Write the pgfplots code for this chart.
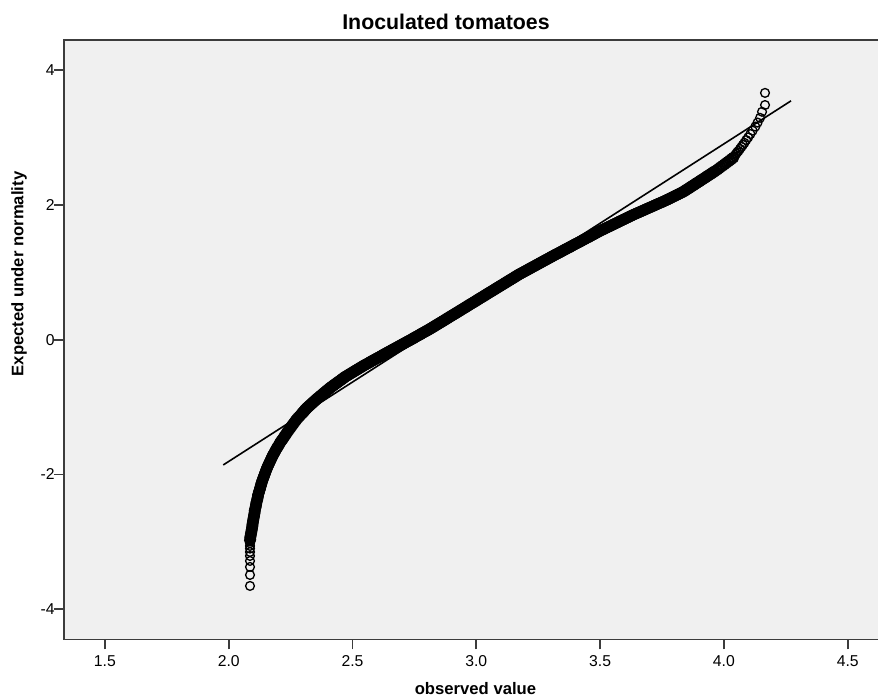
\documentclass[border=0pt]{standalone}
\usepackage{fontspec}
\setmainfont{Liberation Sans}
\usepackage{pgfplots}
\pgfplotsset{compat=1.18}
\usepackage{pgfplotstable}

\definecolor{plotbg}{RGB}{240,240,240}
\definecolor{framegray}{RGB}{60,60,60}

% observed value (x) against expected normal quantile (y), read off the plot
% the sparse points at both ends
\pgfplotstableread{
x y
2.086 -3.654
2.086 -3.491
2.086 -3.372
2.086 -3.283
2.086 -3.209
2.086 -3.150
2.086 -3.100
2.086 -3.060
2.086 -3.020
4.042 2.72
4.046 2.74
4.050 2.76
4.054 2.78
4.059 2.80
4.065 2.83
4.071 2.86
4.077 2.89
4.083 2.92
4.090 2.96
4.098 3.00
4.107 3.05
4.116 3.10
4.127 3.16
4.136 3.22
4.146 3.29
4.154 3.38
4.166 3.48
4.166 3.66
}\qqtails

% the dense middle run
\pgfplotstableread{
x y
2.086 -2.980
2.087 -2.96
2.087 -2.94
2.088 -2.92
2.089 -2.90
2.090 -2.88
2.091 -2.86
2.092 -2.84
2.093 -2.82
2.094 -2.80
2.095 -2.78
2.096 -2.76
2.096 -2.74
2.097 -2.72
2.098 -2.70
2.099 -2.68
2.100 -2.66
2.101 -2.64
2.102 -2.62
2.103 -2.60
2.104 -2.58
2.105 -2.56
2.105 -2.54
2.106 -2.52
2.108 -2.50
2.109 -2.48
2.110 -2.46
2.111 -2.44
2.112 -2.42
2.113 -2.40
2.115 -2.38
2.116 -2.36
2.117 -2.34
2.118 -2.32
2.119 -2.30
2.121 -2.28
2.122 -2.26
2.124 -2.24
2.126 -2.22
2.127 -2.20
2.129 -2.18
2.130 -2.16
2.132 -2.14
2.133 -2.12
2.135 -2.10
2.137 -2.08
2.139 -2.06
2.141 -2.04
2.143 -2.02
2.145 -2.00
2.147 -1.98
2.149 -1.96
2.151 -1.94
2.153 -1.92
2.155 -1.90
2.158 -1.88
2.160 -1.86
2.163 -1.84
2.165 -1.82
2.168 -1.80
2.170 -1.78
2.173 -1.76
2.175 -1.74
2.178 -1.72
2.181 -1.70
2.184 -1.68
2.187 -1.66
2.190 -1.64
2.193 -1.62
2.196 -1.60
2.200 -1.58
2.203 -1.56
2.206 -1.54
2.209 -1.52
2.213 -1.50
2.217 -1.48
2.221 -1.46
2.224 -1.44
2.228 -1.42
2.232 -1.40
2.235 -1.38
2.239 -1.36
2.243 -1.34
2.247 -1.32
2.251 -1.30
2.255 -1.28
2.259 -1.26
2.263 -1.24
2.267 -1.22
2.271 -1.20
2.275 -1.18
2.280 -1.16
2.285 -1.14
2.290 -1.12
2.295 -1.10
2.297 -1.09
2.300 -1.08
2.302 -1.07
2.305 -1.06
2.307 -1.05
2.309 -1.04
2.312 -1.03
2.314 -1.02
2.317 -1.01
2.320 -1.00
2.323 -0.99
2.326 -0.98
2.329 -0.97
2.332 -0.96
2.335 -0.95
2.338 -0.94
2.341 -0.93
2.344 -0.92
2.347 -0.91
2.350 -0.90
2.353 -0.89
2.356 -0.88
2.359 -0.87
2.363 -0.86
2.366 -0.85
2.369 -0.84
2.372 -0.83
2.376 -0.82
2.379 -0.81
2.382 -0.80
2.385 -0.79
2.389 -0.78
2.392 -0.77
2.395 -0.76
2.398 -0.75
2.402 -0.74
2.405 -0.73
2.408 -0.72
2.412 -0.71
2.415 -0.70
2.419 -0.69
2.423 -0.68
2.426 -0.67
2.430 -0.66
2.434 -0.65
2.438 -0.64
2.441 -0.63
2.445 -0.62
2.449 -0.61
2.453 -0.60
2.456 -0.59
2.460 -0.58
2.464 -0.57
2.467 -0.56
2.471 -0.55
2.476 -0.54
2.480 -0.53
2.485 -0.52
2.489 -0.51
2.494 -0.50
2.498 -0.49
2.503 -0.48
2.507 -0.47
2.512 -0.46
2.516 -0.45
2.521 -0.44
2.525 -0.43
2.530 -0.42
2.534 -0.41
2.539 -0.40
2.543 -0.39
2.548 -0.38
2.553 -0.37
2.558 -0.36
2.563 -0.35
2.568 -0.34
2.572 -0.33
2.577 -0.32
2.582 -0.31
2.587 -0.30
2.592 -0.29
2.597 -0.28
2.602 -0.27
2.607 -0.26
2.612 -0.25
2.617 -0.24
2.622 -0.23
2.626 -0.22
2.631 -0.21
2.636 -0.20
2.641 -0.19
2.646 -0.18
2.651 -0.17
2.656 -0.16
2.661 -0.15
2.666 -0.14
2.671 -0.13
2.676 -0.12
2.681 -0.11
2.686 -0.10
2.691 -0.09
2.696 -0.08
2.701 -0.07
2.706 -0.06
2.711 -0.05
2.716 -0.04
2.721 -0.03
2.726 -0.02
2.731 -0.01
2.736 0.00
2.741 0.01
2.746 0.02
2.750 0.03
2.755 0.04
2.760 0.05
2.765 0.06
2.770 0.07
2.775 0.08
2.779 0.09
2.784 0.10
2.789 0.11
2.794 0.12
2.799 0.13
2.804 0.14
2.809 0.15
2.813 0.16
2.818 0.17
2.822 0.18
2.827 0.19
2.831 0.20
2.836 0.21
2.840 0.22
2.845 0.23
2.849 0.24
2.854 0.25
2.858 0.26
2.863 0.27
2.867 0.28
2.872 0.29
2.876 0.30
2.881 0.31
2.885 0.32
2.889 0.33
2.894 0.34
2.898 0.35
2.903 0.36
2.907 0.37
2.912 0.38
2.916 0.39
2.921 0.40
2.925 0.41
2.930 0.42
2.934 0.43
2.938 0.44
2.943 0.45
2.947 0.46
2.952 0.47
2.956 0.48
2.961 0.49
2.965 0.50
2.969 0.51
2.974 0.52
2.978 0.53
2.983 0.54
2.987 0.55
2.992 0.56
2.996 0.57
3.001 0.58
3.005 0.59
3.009 0.60
3.014 0.61
3.018 0.62
3.023 0.63
3.027 0.64
3.032 0.65
3.036 0.66
3.040 0.67
3.045 0.68
3.049 0.69
3.054 0.70
3.058 0.71
3.063 0.72
3.067 0.73
3.072 0.74
3.076 0.75
3.080 0.76
3.085 0.77
3.089 0.78
3.094 0.79
3.098 0.80
3.103 0.81
3.107 0.82
3.112 0.83
3.116 0.84
3.120 0.85
3.125 0.86
3.129 0.87
3.134 0.88
3.138 0.89
3.143 0.90
3.147 0.91
3.152 0.92
3.156 0.93
3.160 0.94
3.165 0.95
3.169 0.96
3.174 0.97
3.179 0.98
3.184 0.99
3.189 1.00
3.194 1.01
3.199 1.02
3.204 1.03
3.209 1.04
3.214 1.05
3.219 1.06
3.224 1.07
3.229 1.08
3.234 1.09
3.239 1.10
3.244 1.11
3.249 1.12
3.254 1.13
3.259 1.14
3.264 1.15
3.269 1.16
3.274 1.17
3.279 1.18
3.284 1.19
3.289 1.20
3.294 1.21
3.299 1.22
3.304 1.23
3.309 1.24
3.314 1.25
3.319 1.26
3.324 1.27
3.330 1.28
3.335 1.29
3.340 1.30
3.345 1.31
3.350 1.32
3.355 1.33
3.360 1.34
3.365 1.35
3.371 1.36
3.376 1.37
3.381 1.38
3.386 1.39
3.391 1.40
3.396 1.41
3.401 1.42
3.406 1.43
3.412 1.44
3.417 1.45
3.422 1.46
3.427 1.47
3.432 1.48
3.437 1.49
3.442 1.50
3.448 1.51
3.453 1.52
3.458 1.53
3.463 1.54
3.468 1.55
3.473 1.56
3.478 1.57
3.483 1.58
3.488 1.59
3.493 1.60
3.498 1.61
3.504 1.62
3.510 1.63
3.515 1.64
3.521 1.65
3.526 1.66
3.532 1.67
3.538 1.68
3.543 1.69
3.549 1.70
3.554 1.71
3.560 1.72
3.566 1.73
3.571 1.74
3.577 1.75
3.582 1.76
3.588 1.77
3.594 1.78
3.599 1.79
3.605 1.80
3.611 1.81
3.616 1.82
3.622 1.83
3.627 1.84
3.633 1.85
3.639 1.86
3.645 1.87
3.651 1.88
3.658 1.89
3.664 1.90
3.670 1.91
3.676 1.92
3.682 1.93
3.688 1.94
3.694 1.95
3.701 1.96
3.707 1.97
3.713 1.98
3.719 1.99
3.725 2.00
3.731 2.01
3.737 2.02
3.744 2.03
3.750 2.04
3.756 2.05
3.762 2.06
3.768 2.07
3.774 2.08
3.779 2.09
3.785 2.10
3.790 2.11
3.796 2.12
3.801 2.13
3.807 2.14
3.812 2.15
3.818 2.16
3.823 2.17
3.829 2.18
3.834 2.19
3.839 2.20
3.843 2.21
3.847 2.22
3.851 2.23
3.856 2.24
3.860 2.25
3.864 2.26
3.868 2.27
3.872 2.28
3.877 2.29
3.881 2.30
3.885 2.31
3.889 2.32
3.893 2.33
3.898 2.34
3.902 2.35
3.906 2.36
3.910 2.37
3.914 2.38
3.919 2.39
3.923 2.40
3.927 2.41
3.931 2.42
3.935 2.43
3.939 2.44
3.944 2.45
3.948 2.46
3.952 2.47
3.956 2.48
3.960 2.49
3.964 2.50
3.973 2.52
3.980 2.54
3.987 2.56
3.995 2.58
4.002 2.60
4.009 2.62
4.017 2.64
4.024 2.66
4.031 2.68
4.038 2.70
}\qqbody

\begin{document}
\begin{tikzpicture}
\useasboundingbox (-48pt,-45.375pt) rectangle (610.5pt,479.6pt);
\begin{axis}[
  at={(0,0)}, anchor=south west,
  scale only axis, width=627pt, height=449.6pt,
  xmin=1.3348, xmax=4.7112, ymin=-4.448, ymax=4.445,
  axis background/.style={fill=plotbg},
  axis line style={framegray, line width=1.4pt},
  tick style={framegray, line width=1.4pt},
  tick align=outside, major tick length=7.5pt, tick pos=left,
  xtick={1.5,2,2.5,3,3.5,4,4.5},
  xticklabels={1.5,2.0,2.5,3.0,3.5,4.0,4.5},
  ytick={-4,-2,0,2,4},
  yticklabels={-4,-2,0,2,4},
  tick label style={font=\fontsize{11.8}{14}\selectfont, text=black},
  yticklabel style={inner xsep=0pt, xshift=0.6pt},
  xticklabel style={yshift=-1pt},
  clip=true,
]
\addplot[only marks, mark=o, mark size=3.7pt, mark options={black, line width=1.5pt}] table[x=x, y=y] {\qqbody};
\addplot[only marks, mark=o, mark size=3.3pt, mark options={black, line width=1pt}] table[x=x, y=y] {\qqtails};
\addplot[black, line width=1.2pt] coordinates {(1.978,-1.859) (4.271,3.542)};
\end{axis}
\node[font=\bfseries\fontsize{16}{19}\selectfont] at (286.5pt,463.1pt) {Inoculated tomatoes};
\node[font=\bfseries\fontsize{12.5}{15}\selectfont] at (308.6pt,-37.1pt) {observed value};
\node[font=\bfseries\fontsize{12.5}{15}\selectfont, rotate=90] at (-33.75pt,274.1pt) {Expected under normality};
\end{tikzpicture}
\end{document}
